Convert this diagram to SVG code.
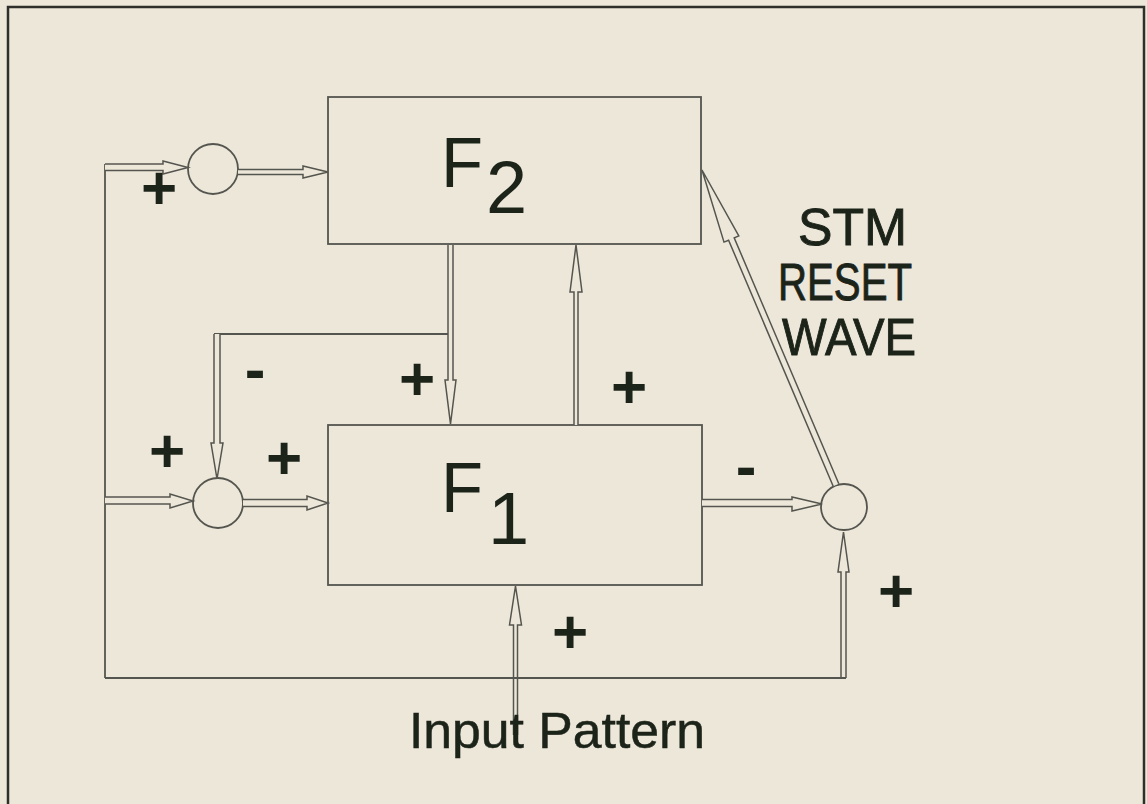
<svg xmlns="http://www.w3.org/2000/svg" width="1147" height="804" viewBox="0 0 1147 804">
<style>
.bg{fill:#ece7d9}
.frame{fill:none;stroke:#2e2e2a;stroke-width:2.5}
.box{fill:#ece7d9;stroke:#55554f;stroke-width:1.8}
.sum{fill:#ece7d9;stroke:#55554f;stroke-width:1.8}
.line{fill:none;stroke:#55554f;stroke-width:1.8}
.arrow{fill:#ece7d9;stroke:#55554f;stroke-width:1.5;stroke-linejoin:miter}
.lbl{font-family:"Liberation Sans",Arial,Helvetica,sans-serif;fill:#1c2319}
.sign{font-family:"Liberation Sans",Arial,Helvetica,sans-serif;font-weight:bold;font-size:62px;fill:#1c2319;text-anchor:middle}
.fl{font-size:70px}
.sub{font-size:74px}
.mid{font-size:52px;stroke:#1c2319;stroke-width:0.9}
</style>
<rect class="bg" x="0" y="0" width="1147" height="804"/>
<rect class="frame" x="8" y="7" width="1136" height="820"/>

<g id="F2">
<rect class="box" x="328" y="97" width="373" height="147"/>
<text class="lbl fl" x="441" y="187" textLength="42" lengthAdjust="spacingAndGlyphs">F</text>
<text class="lbl sub" x="486" y="213">2</text>
</g>
<g id="F1">
<rect class="box" x="328" y="425" width="374" height="160"/>
<text class="lbl fl" x="441" y="512" textLength="42" lengthAdjust="spacingAndGlyphs">F</text>
<text class="lbl sub" x="488" y="544">1</text>
</g>
<g id="sum-top"><circle class="sum" cx="213" cy="169" r="25"/></g>
<g id="sum-left"><circle class="sum" cx="218" cy="503" r="25"/></g>
<g id="sum-reset"><circle class="sum" cx="844" cy="507" r="23"/></g>

<g id="connectors">
<path class="line" d="M105,164 V678"/>
<path class="line" d="M214,334 H448"/>
<path class="arrow" d="M105,164 L163,164 L163,161 L188,167.5 L163,174 L163,170.5 L105,170.5"/>
<path class="arrow" d="M238,169.5 L303,169.5 L303,166 L328,172 L303,178 L303,174.5 L238,174.5"/>
<path class="arrow" d="M105,497 L170,497 L170,494 L193,501 L170,508 L170,504 L105,504"/>
<path class="arrow" d="M243,499.5 L307,499.5 L307,496 L328,503 L307,510 L307,506.5 L243,506.5"/>
<path class="arrow" d="M214,334 L214,443 L211,443 L217,479 L223,443 L220,443 L220,334"/>
<path class="arrow" d="M448,245 L448,380 L445,380 L450.5,424 L456,380 L453,380 L453,245"/>
<path class="arrow" d="M574,425 L574,292 L570,292 L576,245 L582,292 L578,292 L578,425"/>
<path class="arrow" d="M702,499.5 L792,499.5 L792,497 L822,504 L792,511 L792,506.5 L702,506.5"/>
<path class="arrow" d="M841,678 L841,572 L838,572 L843.5,532 L849,572 L846,572 L846,678"/>
<path class="arrow" d="M513.5,735 L513.5,625 L509.5,625 L515.5,586 L521.5,625 L517.5,625 L517.5,735"/>
<path class="arrow" d="M833.2,486.2 L728.6,240.2 L724.0,242.1 L702,170 L738.8,235.9 L734.2,237.8 L838.8,483.8"/>
<path class="line" d="M105,678 H846"/>
</g>

<g id="signs">
<text class="sign" x="159" y="209">+</text>
<text class="sign" x="167" y="472">+</text>
<text class="sign" x="284" y="479">+</text>
<text class="sign" x="417" y="400">+</text>
<text class="sign" x="629" y="408">+</text>
<text class="sign" x="570" y="653">+</text>
<text class="sign" x="896" y="612">+</text>
<text class="sign" x="255" y="390">-</text>
<text class="sign" x="746" y="487">-</text>
</g>

<g id="reset-label">
<text class="lbl mid" x="798" y="245" textLength="109" lengthAdjust="spacingAndGlyphs">STM</text>
<text class="lbl mid" x="778" y="300" textLength="134" lengthAdjust="spacingAndGlyphs">RESET</text>
<text class="lbl mid" x="782" y="355" textLength="134" lengthAdjust="spacingAndGlyphs">WAVE</text>
</g>
<g id="input-label">
<text class="lbl" x="409" y="748" font-size="50" textLength="296" lengthAdjust="spacingAndGlyphs" stroke="#1c2319" stroke-width="0.5">Input Pattern</text>
</g>
</svg>
